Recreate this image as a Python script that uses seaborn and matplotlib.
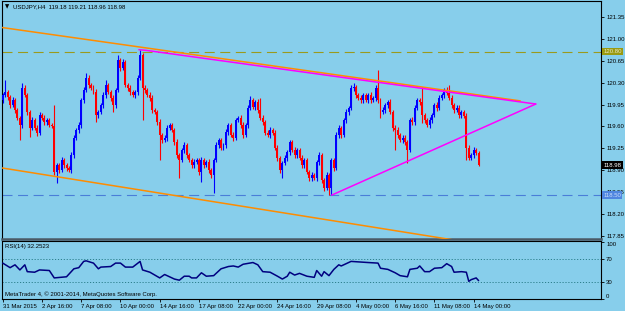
import numpy as np
import matplotlib
matplotlib.use("Agg")
import matplotlib.pyplot as plt
import matplotlib.transforms as mtransforms
import seaborn as sns

# ---------------- data ----------------
first_open = 120.02
closes = [
    120.10, 120.15, 120.07, 119.94, 120.02, 119.86, 119.74, 119.62, 120.22, 120.10,
    119.83, 119.58, 119.70, 119.58, 119.50, 119.78, 119.74, 119.67, 119.70, 119.62,
    119.61, 118.87, 118.98, 118.90, 119.06, 118.98, 118.93, 118.90, 119.14, 119.42,
    119.54, 119.62, 120.02, 120.18, 120.38, 120.26, 120.22, 120.15, 119.78, 119.83,
    119.94, 120.10, 120.26, 120.15, 120.06, 119.94, 120.18, 120.66, 120.54, 120.63,
    120.26, 120.22, 120.15, 120.10, 120.15, 120.38, 120.75, 120.22, 120.18, 120.10,
    120.06, 119.86, 119.83, 119.67, 119.46, 119.38, 119.42, 119.58, 119.62, 119.54,
    119.35, 119.14, 119.06, 119.22, 119.30, 119.14, 119.06, 118.98, 119.03, 119.06,
    118.87, 119.06, 118.98, 119.03, 118.90, 118.82, 119.06, 119.30, 119.38, 119.26,
    119.30, 119.51, 119.62, 119.46, 119.42, 119.70, 119.74, 119.62, 119.46, 119.62,
    119.90, 120.02, 119.91, 119.99, 119.86, 119.74, 119.67, 119.50, 119.46, 119.54,
    119.50, 119.26, 119.10, 118.90, 119.01, 119.10, 119.19, 119.35, 119.22, 119.14,
    119.22, 119.10, 118.98, 119.06, 118.87, 118.77, 118.82, 118.77, 119.03, 119.14,
    118.74, 118.61, 118.82, 118.61, 119.06, 118.93, 119.46, 119.58, 119.46, 119.70,
    119.83, 119.90, 120.22, 120.23, 120.10, 120.06, 120.02, 120.10, 120.02, 120.10,
    120.02, 120.06, 120.22, 120.02, 119.83, 119.86, 119.94, 119.99, 119.83, 119.58,
    119.54, 119.46, 119.38, 119.42, 119.35, 119.22, 119.70, 119.67, 119.90, 120.02,
    119.99, 119.78, 119.70, 119.62, 119.70, 119.78, 119.94, 119.90, 120.06, 120.10,
    120.18, 120.14, 120.06, 119.94, 119.86, 119.90, 119.78, 119.83, 119.77, 119.26,
    119.10, 119.14, 119.22, 119.18, 118.98,
]
upper_wick = [
    0.04, 0.19, 0.03, 0.04, 0.05, 0.03, 0.04, 0.03, 0.08, 0.04,
    0.03, 0.04, 0.05, 0.03, 0.04, 0.05, 0.03, 0.04, 0.04, 0.03,
    0.04, 0.33, 0.04, 0.03, 0.05, 0.04, 0.03, 0.04, 0.05, 0.04,
    0.03, 0.05, 0.04, 0.05, 0.08, 0.04, 0.03, 0.04, 0.05, 0.03,
    0.04, 0.05, 0.08, 0.03, 0.04, 0.05, 0.04, 0.09, 0.04, 0.05,
    0.03, 0.04, 0.05, 0.03, 0.04, 0.05, 0.08, 0.03, 0.04, 0.03,
    0.05, 0.04, 0.03, 0.04, 0.05, 0.03, 0.04, 0.05, 0.04, 0.03,
    0.04, 0.05, 0.03, 0.04, 0.05, 0.03, 0.04, 0.04, 0.05, 0.03,
    0.04, 0.05, 0.03, 0.04, 0.05, 0.03, 0.04, 0.05, 0.04, 0.03,
    0.04, 0.05, 0.03, 0.04, 0.05, 0.04, 0.03, 0.04, 0.05, 0.03,
    0.04, 0.07, 0.03, 0.04, 0.05, 0.20, 0.04, 0.03, 0.04, 0.05,
    0.03, 0.04, 0.05, 0.03, 0.04, 0.05, 0.04, 0.03, 0.04, 0.05,
    0.03, 0.04, 0.05, 0.04, 0.03, 0.04, 0.05, 0.03, 0.04, 0.05,
    0.04, 0.03, 0.05, 0.04, 0.03, 0.04, 0.05, 0.04, 0.03, 0.04,
    0.05, 0.03, 0.04, 0.07, 0.04, 0.03, 0.05, 0.04, 0.03, 0.04,
    0.05, 0.03, 0.04, 0.28, 0.04, 0.05, 0.03, 0.04, 0.05, 0.03,
    0.04, 0.05, 0.03, 0.04, 0.05, 0.03, 0.04, 0.05, 0.04, 0.03,
    0.04, 0.24, 0.03, 0.04, 0.05, 0.03, 0.04, 0.05, 0.04, 0.03,
    0.04, 0.05, 0.12, 0.04, 0.03, 0.04, 0.05, 0.03, 0.04, 0.05,
    0.04, 0.03, 0.05, 0.04, 0.03,
]
lower_wick = [
    0.04, 0.03, 0.05, 0.04, 0.03, 0.05, 0.04, 0.24, 0.04, 0.03,
    0.05, 0.15, 0.04, 0.03, 0.05, 0.04, 0.03, 0.05, 0.04, 0.03,
    0.04, 0.05, 0.18, 0.04, 0.03, 0.05, 0.04, 0.03, 0.05, 0.04,
    0.03, 0.04, 0.05, 0.04, 0.03, 0.05, 0.04, 0.03, 0.11, 0.04,
    0.03, 0.05, 0.04, 0.03, 0.05, 0.11, 0.04, 0.03, 0.05, 0.04,
    0.03, 0.05, 0.04, 0.03, 0.05, 0.04, 0.03, 0.52, 0.04, 0.03,
    0.05, 0.04, 0.03, 0.05, 0.40, 0.04, 0.03, 0.05, 0.04, 0.03,
    0.05, 0.04, 0.29, 0.03, 0.05, 0.04, 0.03, 0.05, 0.04, 0.03,
    0.05, 0.16, 0.04, 0.03, 0.05, 0.04, 0.29, 0.03, 0.05, 0.04,
    0.03, 0.05, 0.04, 0.03, 0.05, 0.04, 0.03, 0.05, 0.04, 0.03,
    0.05, 0.04, 0.03, 0.05, 0.04, 0.03, 0.05, 0.04, 0.03, 0.05,
    0.04, 0.03, 0.05, 0.04, 0.13, 0.03, 0.05, 0.04, 0.03, 0.05,
    0.04, 0.03, 0.05, 0.04, 0.03, 0.05, 0.04, 0.03, 0.05, 0.04,
    0.05, 0.04, 0.03, 0.11, 0.11, 0.04, 0.03, 0.05, 0.04, 0.03,
    0.05, 0.04, 0.03, 0.05, 0.04, 0.03, 0.05, 0.04, 0.03, 0.05,
    0.04, 0.03, 0.05, 0.04, 0.09, 0.03, 0.05, 0.04, 0.03, 0.05,
    0.32, 0.04, 0.03, 0.05, 0.04, 0.21, 0.03, 0.05, 0.04, 0.03,
    0.05, 0.12, 0.04, 0.03, 0.05, 0.04, 0.03, 0.05, 0.04, 0.03,
    0.05, 0.04, 0.03, 0.05, 0.04, 0.03, 0.05, 0.04, 0.03, 0.20,
    0.04, 0.03, 0.05, 0.04, 0.02,
]

rsi_bars = [0, 3, 5, 7, 9, 10, 13, 15, 19, 21, 26, 29, 31, 33, 34, 37, 39, 40, 44, 46,
            48, 50, 53, 56, 57, 60, 64, 66, 70, 72, 74, 76, 77, 79, 81, 83, 86, 89, 92, 94,
            96, 98, 102, 104, 106, 109, 112, 114, 116, 117, 119, 121, 124, 127, 128, 130, 131, 133, 135, 137,
            138, 142, 149, 153, 154, 157, 160, 162, 165, 166, 169, 170, 172, 174, 176, 179, 181, 183, 184, 187,
            189, 190, 191, 193, 194]
rsi_vals = [63, 55, 60, 51, 60, 48, 47, 51, 50, 37, 39, 53, 55, 66, 67, 63, 53, 56, 57, 63,
            63, 56, 56, 66, 51, 47, 37, 43, 35, 33, 40, 40, 37, 37, 46, 40, 41, 53, 57, 58,
            56, 61, 64, 60, 48, 47, 40, 35, 40, 47, 42, 45, 40, 38, 50, 40, 48, 41, 52, 60,
            58, 66, 64, 63, 54, 52, 46, 41, 39, 52, 54, 58, 48, 48, 54, 55, 62, 57, 47, 48,
            47, 31, 34, 37, 32.25]

time_tick_bars = [0, 16, 32, 48, 64, 80, 96, 112, 128, 144, 160, 176, 192]
time_tick_labels = ["31 Mar 2015", "2 Apr 16:00", "7 Apr 08:00", "10 Apr 00:00", "14 Apr 16:00",
                    "17 Apr 08:00", "22 Apr 00:00", "24 Apr 16:00", "29 Apr 08:00", "4 May 00:00",
                    "6 May 16:00", "11 May 08:00", "14 May 00:00"]
price_ticks = [121.35, 121.00, 120.65, 120.30, 119.95, 119.60, 119.25, 118.90, 118.55, 118.20, 117.85]
rsi_levels = [30, 70]

# trend lines: (bar, price) end points
orange_upper = ([-1, 211], [121.19, 120.01])
orange_lower = ([-1, 192], [118.94, 117.73])
magenta_upper = ([55.5, 58.5, 217.3], [120.83, 120.82, 119.96])
magenta_lower = ([134.1, 217.3], [118.50, 119.96])
level_olive = 120.80
level_blue = 118.50
last_price = 118.98

# ---------------- style ----------------
SKY = "#87CEEB"
sns.set_theme(style="white")
plt.rcParams["font.family"] = ["Liberation Sans", "DejaVu Sans"]
FS = 4.3

C = np.array(closes)
O = np.concatenate([[first_open], C[:-1]])
H = np.maximum(O, C) + np.array(upper_wick)
L = np.minimum(O, C) - np.array(lower_wick)
n = len(C)
xb = np.arange(n)

fig = plt.figure(figsize=(6.25, 3.11), dpi=100, facecolor=SKY)
ax = fig.add_axes([2 / 625, (311 - 239) / 311, 599 / 625, 238 / 311])
ax2 = fig.add_axes([2 / 625, (311 - 299) / 311, 599 / 625, 58 / 311])

XL = (-0.3, 243.9)
for a in (ax, ax2):
    a.set_facecolor(SKY)
    a.set_xlim(*XL)
    for s in a.spines.values():
        s.set_color("black")
        s.set_linewidth(0.8)
ax.spines["bottom"].set_color("#4a5a66")
ax.spines["bottom"].set_linewidth(1.8)

# candles
cols = np.where(C >= O, "#0000ff", "#ff0000")
ax.vlines(xb, L, H, colors=cols, lw=0.8, zorder=3)
body = np.abs(C - O)
body = np.where(body < 0.012, 0.012, body)
ax.bar(xb, body, bottom=np.minimum(O, C), width=0.8, color=cols, linewidth=0, zorder=3)

# horizontal levels
ax.axhline(level_olive, color="#9a9a1e", lw=0.8, ls=(0, (9, 5)), zorder=2)
ax.axhline(level_blue, color="#4a7ed8", lw=0.8, ls=(0, (9, 5)), zorder=2)

# trend lines
sns.lineplot(x=orange_upper[0], y=orange_upper[1], ax=ax, color="#ff8c00", lw=1.1, zorder=4)
sns.lineplot(x=orange_lower[0], y=orange_lower[1], ax=ax, color="#ff8c00", lw=1.1, zorder=4)
sns.lineplot(x=magenta_upper[0], y=magenta_upper[1], ax=ax, color="#ff00ff", lw=1.1, zorder=4)
sns.lineplot(x=magenta_lower[0], y=magenta_lower[1], ax=ax, color="#ff00ff", lw=1.1, zorder=4)

ax.set_ylim(117.797, 121.611)
ax.set_xlim(*XL)
ax.yaxis.tick_right()
ax.set_yticks(price_ticks)
ax.set_yticklabels([f"{p:.2f}" for p in price_ticks])
ax.tick_params(axis="y", direction="out", length=2.5, width=0.6, pad=1.2,
               labelsize=FS, colors="black", left=False, right=True)
ax.set_xticks([])
ax.set_xlabel("")
ax.set_ylabel("")

tr = mtransforms.blended_transform_factory(ax.transAxes, ax.transData)
ax.text(1.004, level_olive, f"{level_olive:.2f}", transform=tr, va="center", ha="left",
        fontsize=FS, color="#e8e8c8", zorder=6, clip_on=False,
        bbox=dict(boxstyle="square,pad=0.2", fc="#9a9a10", ec="none"))
ax.text(1.004, last_price, f"{last_price:.2f}", transform=tr, va="center", ha="left",
        fontsize=FS, color="white", zorder=6, clip_on=False,
        bbox=dict(boxstyle="square,pad=0.2", fc="black", ec="none"))
ax.text(1.004, level_blue, f"{level_blue:.2f}", transform=tr, va="center", ha="left",
        fontsize=FS, color="#c8dcf8", zorder=6, clip_on=False,
        bbox=dict(boxstyle="square,pad=0.2", fc="#4f86e0", ec="none"))

ax.text(0.005, 0.975, "\u25BC", transform=ax.transAxes, fontsize=4.0, va="center", ha="left",
        color="black", family=["DejaVu Sans"])
ax.text(0.018, 0.975, "USDJPY,H4  119.18 119.21 118.96 118.98", transform=ax.transAxes,
        fontsize=FS, va="center", ha="left", color="black")

# RSI panel
sns.lineplot(x=rsi_bars, y=rsi_vals, ax=ax2, color="#000080", lw=1.1, zorder=3)
for lv in rsi_levels:
    ax2.axhline(lv, color="#2c7f8c", lw=0.7, ls=(0, (1.2, 1.8)), zorder=2)
ax2.set_ylim(0.96, 101.8)
ax2.set_xlim(*XL)
ax2.yaxis.tick_right()
ax2.set_yticks([0, 30, 70, 100])
ax2.set_yticklabels(["0", "30", "70", "100"])
ax2.tick_params(axis="y", direction="out", length=2.5, width=0.6, pad=1.2,
                labelsize=FS, colors="black", left=False, right=True)
ylabs = ax2.get_yticklabels()
ylabs[0].set_verticalalignment("bottom")
ylabs[-1].set_verticalalignment("top")
ax2.set_xticks(time_tick_bars)
ax2.set_xticklabels(time_tick_labels)
ax2.tick_params(axis="x", direction="out", length=2.5, width=0.6, pad=1.0,
                labelsize=FS, colors="black", bottom=True)
for t in ax2.get_xticklabels():
    t.set_horizontalalignment("left")
ax2.set_xlabel("")
ax2.set_ylabel("")
ax2.text(0.005, 0.9, "RSI(14) 32.2523", transform=ax2.transAxes, fontsize=FS,
         va="center", ha="left", color="black")
ax2.text(0.005, 0.08, "MetaTrader 4, \u00A9 2001-2014, MetaQuotes Software Corp.",
         transform=ax2.transAxes, fontsize=FS, va="center", ha="left", color="black")

fig.savefig("out.png", dpi=100, facecolor=SKY)
